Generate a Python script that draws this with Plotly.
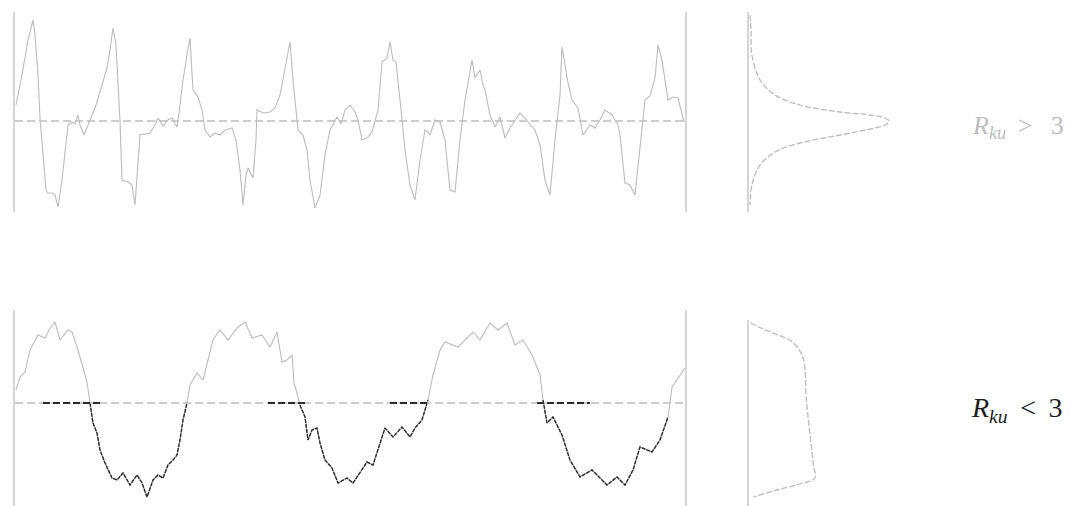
import plotly.graph_objects as go

W, H = 1070, 506

# ---------------- data ----------------
# Top profile, Rku > 3 : position along the trace, height from mean line
top_x = [1, 7, 13, 15, 18, 20, 23, 25, 27, 29, 31, 33, 37, 40, 43, 47, 50, 53, 57, 60,
         63, 65, 69, 75, 81, 87, 92, 95, 98, 101, 103, 105, 107, 113, 117, 120, 125, 135, 140, 143,
         148, 153, 157, 162, 165, 168, 172, 175, 178, 183, 187, 190, 195, 200, 205, 210, 217, 221, 225, 228,
         231, 233, 238, 241, 242, 248, 255, 260, 265, 270, 275, 278, 283, 288, 292, 295, 300, 305, 310, 315,
         322, 326, 330, 335, 340, 343, 347, 352, 357, 363, 367, 372, 375, 378, 381, 385, 390, 395, 400, 405,
         410, 413, 415, 420, 425, 430, 435, 440, 445, 450, 457, 460, 465, 468, 470, 475, 480, 485, 490, 495,
         505, 513, 520, 525, 530, 535, 540, 545, 547, 550, 552, 557, 563, 568, 575, 580, 585, 590, 597, 603,
         605, 610, 615, 620, 625, 630, 635, 640, 643, 647, 650, 653, 658, 663, 669]
top_h = [1.6, 4.6, 8.1, 8.8, 10.1, 8.6, 4.6, 0.3, -1.9, -4.9, -6.9, -7.2, -7.2, -7.4, -8.6, -5.9, -2.9, -0.4, -0.1, -0.3,
         0.6, -0.4, -1.4, 0.1, 1.6, 3.6, 5.3, 7.1, 9.3, 7.6, 3.6, 0.0, -5.9, -6.1, -6.4, -8.4, -1.4, -1.2, -0.4, 0.3,
         -0.5, 0.1, 0.3, -0.6, 1.6, 4.1, 6.6, 8.3, 3.1, 2.4, 1.1, -0.9, -1.6, -1.2, -1.4, -0.9, -0.7, -1.9, -4.9, -8.4,
         -5.4, -4.7, -5.7, -1.9, 1.1, 0.8, 0.9, 1.3, 2.6, 5.1, 7.9, 4.1, -0.9, -1.4, -2.9, -5.9, -8.7, -7.4, -3.4, -0.9,
         0.4, -0.3, 1.1, 1.6, 0.9, 0.1, -1.9, -1.7, -1.1, 1.1, 5.9, 6.3, 7.9, 6.1, 5.9, 2.1, -2.9, -6.4, -7.9, -3.9,
         -0.9, -1.1, -1.4, 0.1, -0.1, -1.9, -6.9, -7.1, -1.9, 2.1, 6.1, 4.3, 5.1, 3.6, 3.1, 0.6, -0.6, 0.4, -1.7, -0.7,
         0.8, -0.1, -0.9, -2.4, -5.9, -7.4, -1.9, 2.6, 7.4, 5.6, 4.3, 2.1, 1.3, -1.4, -0.4, -0.7, 0.1, 1.1, 0.6, -0.4,
         -1.4, -6.2, -6.4, -7.4, -2.9, 2.1, 2.5, 4.3, 7.6, 6.1, 4.1, 2.1, 2.4, 2.3, -0.1]

# Bottom profile, Rku < 3
bot_x = [1, 5, 10, 15, 23, 30, 35, 40, 45, 53, 57, 63, 70, 72, 75, 78, 82, 85, 90, 97,
         102, 108, 115, 122, 127, 132, 138, 143, 148, 153, 158, 162, 165, 168, 172, 175, 182, 188, 193, 198,
         205, 213, 222, 230, 237, 247, 255, 262, 267, 272, 277, 279, 282, 285, 290, 293, 297, 302, 305, 310,
         317, 323, 332, 338, 347, 352, 358, 363, 367, 370, 378, 387, 395, 400, 407, 413, 418, 425, 430, 443,
         458, 465, 475, 483, 492, 500, 508, 517, 525, 528, 532, 538, 547, 555, 565, 577, 592, 602, 610, 618,
         625, 637, 645, 653, 657, 665, 670]
bot_h = [1.3, 2.6, 3.1, 5.3, 6.8, 6.5, 7.5, 8.1, 6.3, 7.3, 7.1, 5.3, 2.8, 2.1, 0.0, -2.0, -3.0, -4.7, -6.0, -7.5,
         -7.7, -7.0, -8.2, -7.2, -8.0, -9.4, -7.7, -7.2, -7.5, -6.2, -5.7, -5.2, -3.7, -1.7, 0.0, 1.8, 3.0, 2.3, 4.3, 6.3,
         7.3, 6.3, 7.5, 8.1, 6.5, 6.8, 5.6, 7.1, 4.1, 4.3, 4.8, 2.0, 1.0, -0.2, -1.4, -3.7, -2.7, -2.5, -4.0, -5.7,
         -6.5, -8.0, -7.5, -8.0, -6.7, -5.9, -6.2, -4.7, -3.5, -2.5, -3.4, -2.4, -3.4, -2.5, -1.7, 0.3, 2.8, 5.3, 6.1, 5.6,
         7.1, 6.3, 8.0, 7.3, 8.0, 5.8, 6.3, 4.8, 2.8, 0.3, -2.0, -1.4, -3.2, -5.7, -7.4, -6.7, -8.2, -7.4, -8.2, -6.7,
         -4.4, -4.9, -3.7, -1.4, 1.6, 2.8, 3.5]

# Height distributions (amplitude density curves)
top_dist_d = [0.007, 0.014, 0.021, 0.079, 0.186, 0.364, 0.65, 0.864, 0.971, 1.0,
              0.971, 0.864, 0.65, 0.364, 0.186, 0.079, 0.021, 0.007]
top_dist_h = [10.6, 9.1, 6.6, 4.1, 2.6, 1.6, 0.9, 0.6, 0.3, 0.0,
              -0.4, -0.8, -1.4, -2.2, -3.1, -4.4, -6.4, -8.4]
bot_dist_d = [0.01, 0.15, 0.29, 0.35, 0.39, 0.41, 0.44, 0.46, 0.47, 0.36, 0.20, 0.03]
bot_dist_h = [8.0, 7.1, 6.3, 5.5, 4.3, 0.3, -3.7, -6.2, -7.5, -8.1, -8.7, -9.4]

# darker (scanned) pieces of the lower mean line: start, end positions
dark_mean_start = [28, 253, 375, 522]
dark_mean_end = [85, 293, 415, 575]

labels = ["<i>R</i><sub><i>ku</i></sub>\u2009 &gt;\u00a0\u2009 3",
          "<i>R</i><sub><i>ku</i></sub>\u2009 &lt;\u2009 3"]

# ---------------- layout helpers ----------------
def px_x(p):
    return p / W

def px_y(p):
    return 1 - p / H

LIGHT = "#bcbcbc"
AXIS = "#d6d6d6"
DARK = "#2a2a2a"

fig = go.Figure()

# top profile
fig.add_trace(go.Scatter(x=top_x, y=top_h, mode="lines", xaxis="x", yaxis="y",
                         line=dict(color=LIGHT, width=1.1), hoverinfo="skip"))
# top distribution
fig.add_trace(go.Scatter(x=top_dist_d, y=top_dist_h, mode="lines", xaxis="x2", yaxis="y2",
                         line=dict(color=LIGHT, width=1.3, shape="spline", dash="6px,2px"),
                         hoverinfo="skip"))
# bottom profile (light), then darker valleys
fig.add_trace(go.Scatter(x=bot_x, y=bot_h, mode="lines", xaxis="x3", yaxis="y3",
                         line=dict(color=LIGHT, width=1.1), hoverinfo="skip"))
bot_dark = [h if h <= 0.3 else None for h in bot_h]
fig.add_trace(go.Scatter(x=bot_x, y=bot_dark, mode="lines", xaxis="x3", yaxis="y3",
                         line=dict(color=DARK, width=1.4, dash="4px,1px"), connectgaps=False,
                         hoverinfo="skip"))
# bottom distribution
fig.add_trace(go.Scatter(x=bot_dist_d, y=bot_dist_h, mode="lines", xaxis="x4", yaxis="y4",
                         line=dict(color=LIGHT, width=1.3, shape="spline", dash="6px,2px"),
                         hoverinfo="skip"))

hidden_x = dict(visible=False, showgrid=False, zeroline=False)

fig.update_layout(
    width=W, height=H,
    margin=dict(l=0, r=0, t=0, b=0),
    paper_bgcolor="white", plot_bgcolor="rgba(0,0,0,0)",
    showlegend=False,
    xaxis=dict(domain=[px_x(15), px_x(685)], range=[0, 670], **hidden_x),
    yaxis=dict(domain=[px_y(212), px_y(12)], range=[-9.1, 10.9], showgrid=False, zeroline=False,
               showticklabels=False, ticks="", showline=True, mirror=True,
               linecolor=AXIS, linewidth=1.5, anchor="x"),
    xaxis2=dict(domain=[px_x(749), px_x(900)], range=[0, 151 / 140], anchor="y2", **hidden_x),
    yaxis2=dict(domain=[px_y(212), px_y(12)], range=[-9.1, 10.9], showgrid=False, zeroline=False,
                showticklabels=False, ticks="", showline=True, linecolor=AXIS, linewidth=1.5,
                anchor="x2"),
    xaxis3=dict(domain=[px_x(15), px_x(685)], range=[0, 670], anchor="y3", **hidden_x),
    yaxis3=dict(domain=[0, px_y(310)], range=[-10.3, 9.3], showgrid=False, zeroline=False,
                showticklabels=False, ticks="", showline=True, mirror=True,
                linecolor=AXIS, linewidth=1.5, anchor="x3"),
    xaxis4=dict(domain=[px_x(749), px_x(900)], range=[0, 151 / 140], anchor="y4", **hidden_x),
    yaxis4=dict(domain=[0, px_y(320)], range=[-10.3, 8.3], showgrid=False, zeroline=False,
                showticklabels=False, ticks="", showline=True, linecolor=AXIS, linewidth=1.5,
                anchor="x4"),
)

# mean lines
fig.add_shape(type="line", xref="x domain", yref="y", x0=0, x1=1, y0=0, y1=0,
              line=dict(color="#bdbdbd", width=1.3, dash="8px,4px"))
fig.add_shape(type="line", xref="x3 domain", yref="y3", x0=0, x1=1, y0=0, y1=0,
              line=dict(color="#bdbdbd", width=1.3, dash="8px,4px"))
for s, e in zip(dark_mean_start, dark_mean_end):
    fig.add_shape(type="line", xref="x3", yref="y3", x0=s, x1=e, y0=0, y1=0,
                  line=dict(color=DARK, width=1.8, dash="7px,3px"))

# labels
fig.add_annotation(text=labels[0], xref="paper", yref="paper", x=px_x(970), y=px_y(127),
                   xanchor="left", yanchor="middle", showarrow=False,
                   font=dict(family="Liberation Serif", size=26, color="#bdbdbd"))
fig.add_annotation(text=labels[1], xref="paper", yref="paper", x=px_x(969), y=px_y(409),
                   xanchor="left", yanchor="middle", showarrow=False,
                   font=dict(family="Liberation Serif", size=28, color="#1e1e1e"))

# the page body has a default 8px margin; remove it so the figure fills the window
fig.write_html("out.html", config={"displayModeBar": False},
               post_script="document.body.style.margin='0px';")
